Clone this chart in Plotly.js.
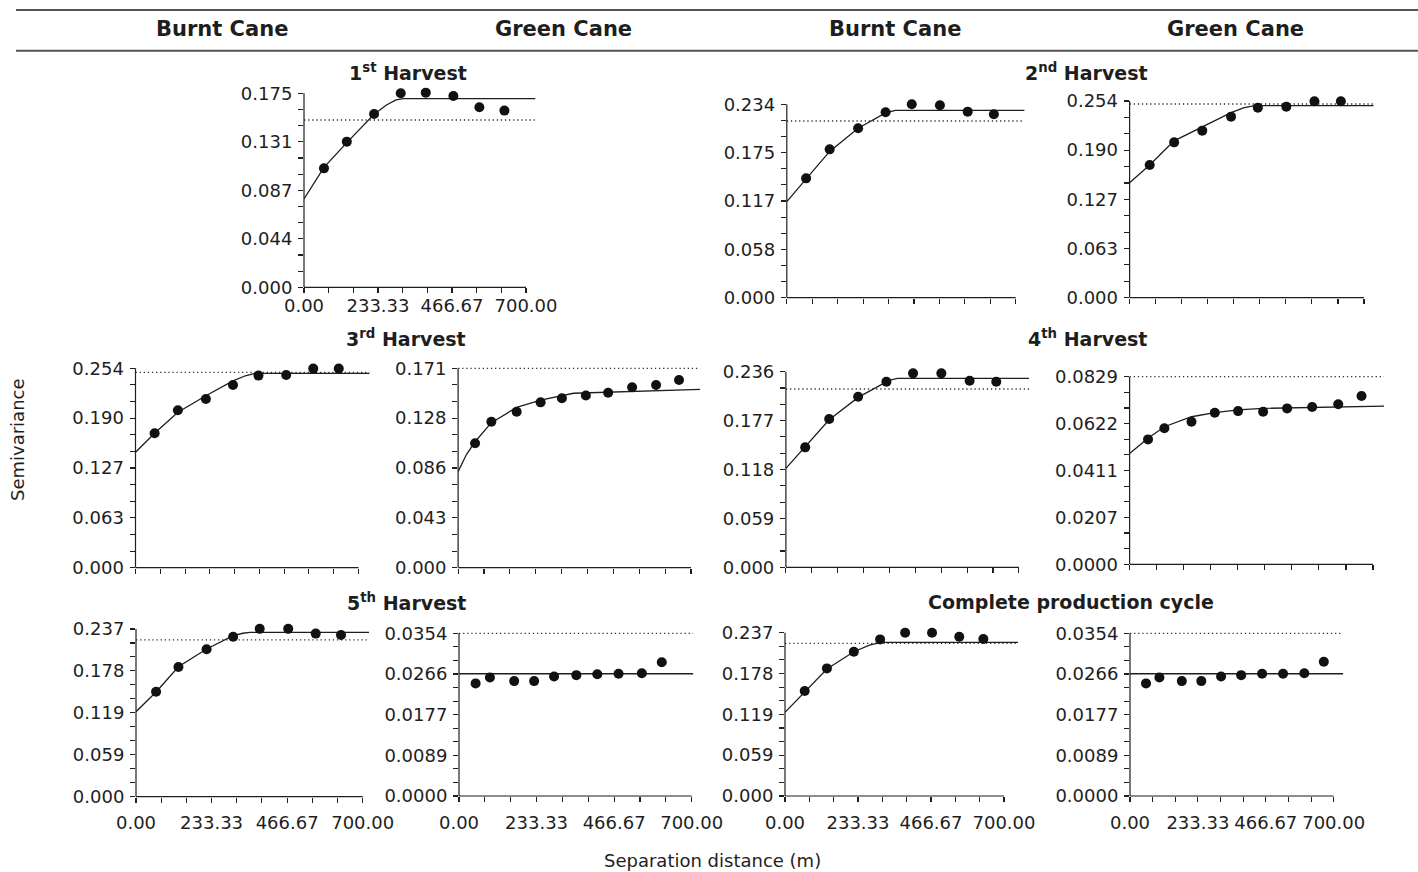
<!DOCTYPE html>
<html><head><meta charset="utf-8">
<script src="https://cdn.plot.ly/plotly-3.0.1.min.js"></script>
<style>html,body{margin:0;padding:0;background:#fff}#chart{width:1418px;height:872px}</style>
</head><body><div id="chart"></div>
<script>
// ================= DATA =================
const columnHeaders = ['Burnt Cane', 'Green Cane', 'Burnt Cane', 'Green Cane'];
const panelTitles = ['1<sup>st</sup> Harvest', '2<sup>nd</sup> Harvest', '3<sup>rd</sup> Harvest',
                     '4<sup>th</sup> Harvest', '5<sup>th</sup> Harvest', 'Complete production cycle'];
const xAxisTitle = 'Separation distance (m)';
const yAxisTitle = 'Semivariance';
const xTickLabels = ['0.00', '233.33', '466.67', '700.00'];
const xTickMax = 700;

// 1st harvest - burnt cane
const lags1  = [63, 135, 221, 305, 384, 471, 553, 632];
const gamma1 = [0.1073, 0.1314, 0.1564, 0.1750, 0.1756, 0.1726, 0.1624, 0.1594];
const modelX1 = [0, 63, 135, 221, 260, 290, 313, 730];
const modelY1 = [0.0797, 0.1082, 0.1305, 0.1561, 0.1645, 0.1690, 0.1702, 0.1702];
const sill1 = 0.1509;
const yLab1 = ['0.000', '0.044', '0.087', '0.131', '0.175'];
const yMax1 = 0.175;

// 2nd harvest - burnt cane
const lags2  = [59, 131, 218, 302, 382, 468, 553, 633];
const gamma2 = [0.1444, 0.1795, 0.2050, 0.2243, 0.2340, 0.2328, 0.2251, 0.2219];
const modelX2 = [0, 59, 131, 218, 280, 302, 332, 727];
const modelY2 = [0.1162, 0.1430, 0.1770, 0.2050, 0.2190, 0.2235, 0.2267, 0.2267];
const sill2 = 0.2138;
const yLab2 = ['0.000', '0.058', '0.117', '0.175', '0.234'];
const yMax2 = 0.234;

// 2nd harvest - green cane
const lags3  = [60, 133, 217, 303, 383, 468, 552, 631];
const gamma3 = [0.1713, 0.2006, 0.2157, 0.2338, 0.2454, 0.2467, 0.2536, 0.2536];
const modelX3 = [0, 60, 133, 217, 303, 340, 373, 729];
const modelY3 = [0.1485, 0.1713, 0.2025, 0.2210, 0.2390, 0.2450, 0.2480, 0.2480];
const sill3 = 0.2501;
const yLab3 = ['0.000', '0.063', '0.127', '0.190', '0.254'];
const yMax3 = 0.254;

// 3rd harvest - burnt cane
const lags4  = [60, 133, 221, 306, 386, 473, 558, 638];
const gamma4 = [0.1712, 0.2005, 0.2149, 0.2328, 0.2447, 0.2455, 0.2536, 0.2536];
const modelX4 = [0, 60, 133, 221, 306, 345, 375, 735];
const modelY4 = [0.1470, 0.1712, 0.1980, 0.2190, 0.2380, 0.2445, 0.2476, 0.2476];
const sill4 = 0.2489;
const yLab4 = ['0.000', '0.063', '0.127', '0.190', '0.254'];
const yMax4 = 0.254;

// 3rd harvest - green cane
const lags5  = [51, 100, 176, 248, 312, 384, 451, 523, 595, 664];
const gamma5 = [0.1067, 0.1252, 0.1338, 0.1418, 0.1453, 0.1476, 0.1501, 0.1547, 0.1567, 0.1610];
const modelX5 = [0, 25, 51, 100, 176, 248, 347, 728];
const modelY5 = [0.0824, 0.0970, 0.1080, 0.1244, 0.1375, 0.1438, 0.1496, 0.1530];
const sill5 = 0.171;
const yLab5 = ['0.000', '0.043', '0.086', '0.128', '0.171'];
const yMax5 = 0.171;

// 4th harvest - burnt cane
const lags6  = [58, 130, 217, 302, 382, 467, 552, 632];
const gamma6 = [0.1447, 0.1789, 0.2058, 0.2239, 0.2340, 0.2340, 0.2251, 0.2239];
const modelX6 = [0, 58, 130, 217, 280, 310, 335, 731];
const modelY6 = [0.1194, 0.1450, 0.1780, 0.2050, 0.2195, 0.2255, 0.2280, 0.2280];
const sill6 = 0.2151;
const yLab6 = ['0.000', '0.059', '0.118', '0.177', '0.236'];
const yMax6 = 0.236;

// 4th harvest - green cane
const lags7  = [53, 100, 178, 245, 312, 384, 453, 525, 600, 667];
const gamma7 = [0.0552, 0.0601, 0.0630, 0.0670, 0.0677, 0.0674, 0.0689, 0.0695, 0.0707, 0.0744];
const modelX7 = [0, 53, 100, 178, 245, 312, 384, 732];
const modelY7 = [0.0490, 0.0557, 0.0608, 0.0652, 0.0670, 0.0682, 0.0689, 0.0699];
const sill7 = 0.0829;
const yLab7 = ['0.0000', '0.0207', '0.0411', '0.0622', '0.0829'];
const yMax7 = 0.0829;

// 5th harvest - burnt cane
const lags8  = [62, 131, 218, 300, 382, 470, 555, 633];
const gamma8 = [0.1482, 0.1834, 0.2084, 0.2261, 0.2372, 0.2372, 0.2305, 0.2285];
const modelX8 = [0, 62, 131, 218, 300, 330, 352, 720];
const modelY8 = [0.1201, 0.1480, 0.1837, 0.2087, 0.2275, 0.2310, 0.2323, 0.2323];
const sill8 = 0.2215;
const yLab8 = ['0.000', '0.059', '0.119', '0.178', '0.237'];
const yMax8 = 0.237;

// 5th harvest - green cane
const lags9  = [50, 93, 166, 226, 286, 353, 416, 480, 550, 610];
const gamma9 = [0.0245, 0.0258, 0.0250, 0.0250, 0.0260, 0.0263, 0.0265, 0.0266, 0.0267, 0.0291];
const modelX9 = [0, 705];
const modelY9 = [0.0266, 0.0266];
const sill9 = 0.0354;
const yLab9 = ['0.0000', '0.0089', '0.0177', '0.0266', '0.0354'];
const yMax9 = 0.0354;

// complete production cycle - burnt cane
const lags10  = [63, 134, 220, 304, 384, 470, 557, 634];
const gamma10 = [0.1524, 0.1852, 0.2094, 0.2273, 0.2370, 0.2370, 0.2312, 0.2278];
const modelX10 = [0, 63, 134, 220, 270, 304, 320, 745];
const modelY10 = [0.1214, 0.1514, 0.1843, 0.2094, 0.2190, 0.2225, 0.2230, 0.2230];
const sill10 = 0.2215;
const yLab10 = ['0.000', '0.059', '0.119', '0.178', '0.237'];
const yMax10 = 0.237;

// complete production cycle - green cane
const lags11  = [55, 101, 178, 245, 313, 382, 454, 526, 599, 666];
const gamma11 = [0.0245, 0.0258, 0.0250, 0.0250, 0.0260, 0.0263, 0.0266, 0.0266, 0.0267, 0.0292];
const modelX11 = [0, 733];
const modelY11 = [0.0266, 0.0266];
const sill11 = 0.0354;
const yLab11 = ['0.0000', '0.0089', '0.0177', '0.0266', '0.0354'];
const yMax11 = 0.0354;

// ================= ASSEMBLY =================
const panels = [
  {lags: lags1,  gamma: gamma1,  mx: modelX1,  my: modelY1,  sill: sill1,  yLab: yLab1,  yMax: yMax1},
  {lags: lags2,  gamma: gamma2,  mx: modelX2,  my: modelY2,  sill: sill2,  yLab: yLab2,  yMax: yMax2},
  {lags: lags3,  gamma: gamma3,  mx: modelX3,  my: modelY3,  sill: sill3,  yLab: yLab3,  yMax: yMax3},
  {lags: lags4,  gamma: gamma4,  mx: modelX4,  my: modelY4,  sill: sill4,  yLab: yLab4,  yMax: yMax4},
  {lags: lags5,  gamma: gamma5,  mx: modelX5,  my: modelY5,  sill: sill5,  yLab: yLab5,  yMax: yMax5},
  {lags: lags6,  gamma: gamma6,  mx: modelX6,  my: modelY6,  sill: sill6,  yLab: yLab6,  yMax: yMax6},
  {lags: lags7,  gamma: gamma7,  mx: modelX7,  my: modelY7,  sill: sill7,  yLab: yLab7,  yMax: yMax7},
  {lags: lags8,  gamma: gamma8,  mx: modelX8,  my: modelY8,  sill: sill8,  yLab: yLab8,  yMax: yMax8},
  {lags: lags9,  gamma: gamma9,  mx: modelX9,  my: modelY9,  sill: sill9,  yLab: yLab9,  yMax: yMax9},
  {lags: lags10, gamma: gamma10, mx: modelX10, my: modelY10, sill: sill10, yLab: yLab10, yMax: yMax10},
  {lags: lags11, gamma: gamma11, mx: modelX11, my: modelY11, sill: sill11, yLab: yLab11, yMax: yMax11}
];

// pixel frame of each panel: left (x=0), x=700 position, bottom (y=0), top (y=yMax)
const W = 1418, H = 872;
const frames = [
  {l: 304,   r: 526,    b: 287.3, t: 93.3,  xlab: true,  xstand: -3},
  {l: 786.8, r: 1015.8, b: 297.7, t: 104.3, xlab: false, xstand: 0},
  {l: 1129.6,r: 1364,   b: 297.7, t: 101,   xlab: false, xstand: 0},
  {l: 135.5, r: 358.5,  b: 567.7, t: 368.3, xlab: false, xstand: 0},
  {l: 458.1, r: 691,    b: 567.7, t: 368.3, xlab: false, xstand: 0},
  {l: 785.9, r: 1018.9, b: 567.3, t: 371.7, xlab: false, xstand: 0},
  {l: 1129.6,r: 1373,   b: 564.3, t: 376.7, xlab: false, xstand: 0},
  {l: 136,   r: 362.7,  b: 796.7, t: 629,   xlab: true,  xstand: 5},
  {l: 459,   r: 691.7,  b: 796,   t: 633.3, xlab: true,  xstand: 5},
  {l: 785,   r: 1004,   b: 796,   t: 632.7, xlab: true,  xstand: 5},
  {l: 1130,  r: 1333.7, b: 796,   t: 633.3, xlab: true,  xstand: 5}
];
const titlePos = [[407.5, 71.7], [1086, 72], [406, 337.7], [1087, 338], [406, 601.7], [1070.5, 601.7]];
const headerPos = [[222, 29], [563, 29], [895, 29], [1235, 29]];

const ink = '#1e1e1e';
const data = [];
const layout = {
  width: W, height: H,
  margin: {l: 0, r: 0, t: 0, b: 0},
  paper_bgcolor: '#ffffff', plot_bgcolor: 'rgba(0,0,0,0)',
  showlegend: false,
  font: {family: 'DejaVu Sans', size: 18, color: ink},
  annotations: [], shapes: []
};

panels.forEach((p, i) => {
  const f = frames[i];
  const sfx = i === 0 ? '' : String(i + 1);
  const xa = 'x' + sfx, ya = 'y' + sfx;
  const xEnd = p.mx[p.mx.length - 1];
  const pxX = (f.r - f.l) / xTickMax;
  const pxY = (f.b - f.t) / p.yMax;
  const yTop = p.yMax * 1.03;
  const xMajor = [], xMinor = [];
  for (let k = 0; k <= 9; k++) {
    if (k % 3 === 0) xMajor.push(k * xTickMax / 9); else xMinor.push(k * xTickMax / 9);
  }
  const yMajor = [], yMinor = [];
  for (let k = 0; k <= 12; k++) {
    if (k % 3 === 0) yMajor.push(k * p.yMax / 12); else yMinor.push(k * p.yMax / 12);
  }
  const minorStyle = {ticks: 'outside', ticklen: 5, tickwidth: 1.1, tickcolor: ink, tickmode: 'array'};
  layout['xaxis' + sfx] = {
    domain: [f.l / W, (f.l + pxX * xEnd) / W], range: [0, xEnd], anchor: ya,
    showgrid: false, zeroline: false, showline: false, fixedrange: true,
    ticks: 'outside', ticklen: 5, tickwidth: 1.1, tickcolor: ink,
    tickmode: 'array', tickvals: xMajor, ticktext: xTickLabels, showticklabels: f.xlab,
    minor: Object.assign({tickvals: xMinor}, minorStyle),
    ticklabelstandoff: f.xstand, tickfont: {family: 'DejaVu Sans', size: 18, color: ink}
  };
  layout['yaxis' + sfx] = {
    domain: [1 - f.b / H, 1 - (f.b - pxY * yTop) / H], range: [0, yTop], anchor: xa,
    showgrid: false, zeroline: false, showline: false, fixedrange: true,
    ticks: 'outside', ticklen: 5, tickwidth: 1.1, tickcolor: ink,
    tickmode: 'array', tickvals: yMajor, ticktext: p.yLab,
    minor: Object.assign({tickvals: yMinor}, minorStyle),
    ticklabelstandoff: 2, tickfont: {family: 'DejaVu Sans', size: 18, color: ink}
  };
  // axis lines
  layout.shapes.push({type: 'line', xref: xa + ' domain', yref: ya, x0: 0, x1: 0, y0: 0, y1: p.yMax,
                      line: {color: ink, width: 1.2}});
  layout.shapes.push({type: 'line', xref: xa, yref: ya + ' domain', x0: 0, x1: xTickMax, y0: 0, y1: 0,
                      line: {color: ink, width: 1.2}});
  // sill (dotted)
  data.push({type: 'scatter', mode: 'lines', x: [0, xEnd], y: [p.sill, p.sill], xaxis: xa, yaxis: ya,
             line: {color: '#333', width: 1.3, dash: '1.3px,2.8px'}, hoverinfo: 'skip'});
  // model
  data.push({type: 'scatter', mode: 'lines', x: p.mx, y: p.my, xaxis: xa, yaxis: ya,
             line: {color: ink, width: 1.3, shape: 'linear'}, hoverinfo: 'skip'});
  // experimental semivariogram
  data.push({type: 'scatter', mode: 'markers', x: p.lags, y: p.gamma, xaxis: xa, yaxis: ya,
             marker: {color: '#111', size: 10}, cliponaxis: false});
});

// header lines
layout.shapes.push({type: 'line', xref: 'paper', yref: 'paper', x0: 16 / W, x1: 1, y0: 1 - 10 / H, y1: 1 - 10 / H,
                    line: {color: '#555', width: 2}});
layout.shapes.push({type: 'line', xref: 'paper', yref: 'paper', x0: 16 / W, x1: 1, y0: 1 - 50.7 / H, y1: 1 - 50.7 / H,
                    line: {color: '#555', width: 2}});

columnHeaders.forEach((t, i) => {
  layout.annotations.push({text: '<b>' + t + '</b>', xref: 'paper', yref: 'paper',
    x: headerPos[i][0] / W, y: 1 - headerPos[i][1] / H, xanchor: 'center', yanchor: 'middle',
    showarrow: false, font: {family: 'DejaVu Sans', size: 21, color: ink}});
});
panelTitles.forEach((t, i) => {
  layout.annotations.push({text: '<b>' + t + '</b>', xref: 'paper', yref: 'paper',
    x: titlePos[i][0] / W, y: 1 - titlePos[i][1] / H, xanchor: 'center', yanchor: 'middle',
    showarrow: false, font: {family: 'DejaVu Sans', size: 19, color: ink}});
});
layout.annotations.push({text: yAxisTitle, xref: 'paper', yref: 'paper', x: 17 / W, y: 1 - 440 / H,
  xanchor: 'center', yanchor: 'middle', textangle: -90, showarrow: false,
  font: {family: 'DejaVu Sans', size: 18, color: ink}});
layout.annotations.push({text: xAxisTitle, xref: 'paper', yref: 'paper', x: 712 / W, y: 1 - 860 / H,
  xanchor: 'center', yanchor: 'middle', showarrow: false,
  font: {family: 'DejaVu Sans', size: 18, color: ink}});

Plotly.newPlot('chart', data, layout, {displayModeBar: false, staticPlot: true});
</script>
</body></html>
